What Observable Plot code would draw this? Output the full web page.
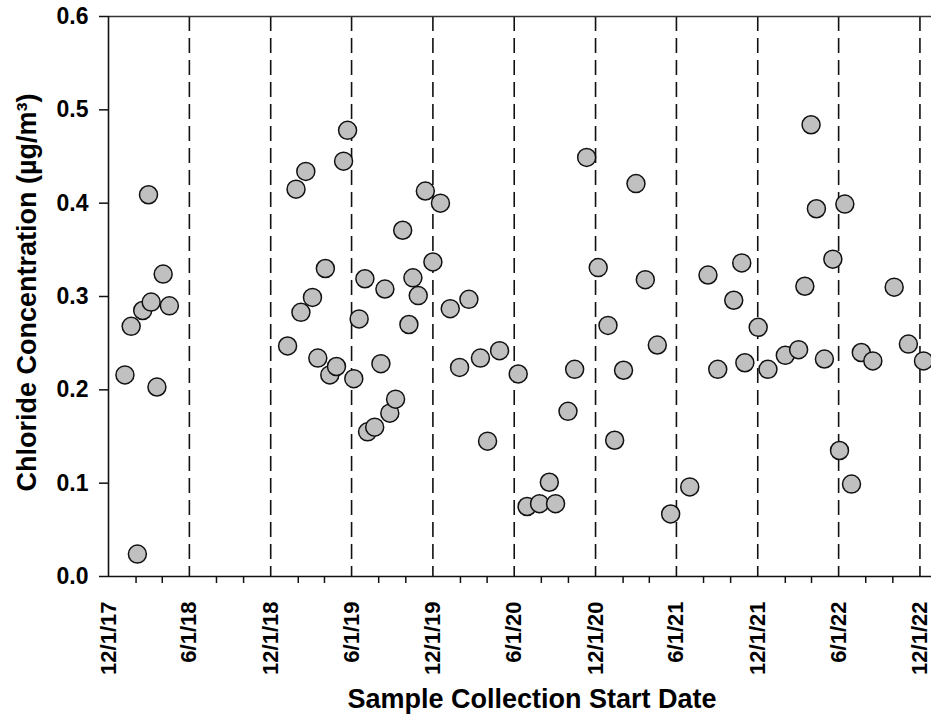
<!DOCTYPE html>
<html>
<head>
<meta charset="utf-8">
<script src="https://cdn.jsdelivr.net/npm/d3@7"></script>
<script src="https://cdn.jsdelivr.net/npm/@observablehq/plot@0.6"></script>
<style>
  html, body { margin: 0; padding: 0; background: #fff; }
  #chart svg { display: block; }
</style>
</head>
<body>
<div id="chart"></div>
<script>
// Sample collection start dates
const dates = [
  "2018-01-07","2018-01-21","2018-02-04","2018-02-16","2018-03-01","2018-03-07","2018-03-20","2018-04-03","2018-04-17",
  "2019-01-08","2019-01-27","2019-02-07","2019-02-18","2019-03-05","2019-03-17","2019-04-03","2019-04-13","2019-04-28",
  "2019-05-14","2019-05-23","2019-06-06","2019-06-18","2019-07-01","2019-07-07","2019-07-23","2019-08-06","2019-08-15",
  "2019-08-26","2019-09-08","2019-09-24","2019-10-08","2019-10-17","2019-10-29","2019-11-14","2019-12-01","2019-12-18",
  "2020-01-09","2020-01-30","2020-02-20","2020-03-17","2020-04-02","2020-04-29","2020-06-10","2020-06-30","2020-07-28",
  "2020-08-19","2020-09-02","2020-09-30","2020-10-15","2020-11-11","2020-12-07","2020-12-29","2021-01-13","2021-02-02",
  "2021-03-02","2021-03-23","2021-04-19","2021-05-19","2021-07-01","2021-08-11","2021-09-02","2021-10-08","2021-10-26",
  "2021-11-02","2021-12-02","2021-12-24","2022-02-01","2022-03-03","2022-03-17","2022-03-31","2022-04-12","2022-04-30",
  "2022-05-19","2022-06-03","2022-06-15","2022-06-30","2022-07-22","2022-08-17","2022-10-04","2022-11-05","2022-12-09"
];
// Chloride concentration (µg/m³)
const chloride = [
  0.216,0.268,0.024,0.285,0.409,0.294,0.203,0.324,0.290,
  0.247,0.415,0.283,0.434,0.299,0.234,0.330,0.216,0.225,
  0.445,0.478,0.212,0.276,0.319,0.155,0.160,0.228,0.308,
  0.175,0.190,0.371,0.270,0.320,0.301,0.413,0.337,0.400,
  0.287,0.224,0.297,0.234,0.145,0.242,0.217,0.075,0.078,
  0.101,0.078,0.177,0.222,0.449,0.331,0.269,0.146,0.221,
  0.421,0.318,0.248,0.067,0.096,0.323,0.222,0.296,0.336,
  0.229,0.267,0.222,0.237,0.243,0.311,0.484,0.394,0.233,
  0.340,0.135,0.399,0.099,0.240,0.231,0.310,0.249,0.231
];
// Major tick dates and labels
const majorTicks = ["2017-12-01","2018-06-01","2018-12-01","2019-06-01","2019-12-01","2020-06-01",
  "2020-12-01","2021-06-01","2021-12-01","2022-06-01","2022-12-01"];
const majorLabels = ["12/1/17","6/1/18","12/1/18","6/1/19","12/1/19","6/1/20",
  "12/1/20","6/1/21","12/1/21","6/1/22","12/1/22"];
// Minor tick dates
const minorTicks = ["2018-02-01","2018-04-01","2018-08-01","2018-10-01","2019-02-01","2019-04-01",
  "2019-08-01","2019-10-01","2020-02-01","2020-04-01","2020-08-01","2020-10-01","2021-02-01",
  "2021-04-01","2021-08-01","2021-10-01","2022-02-01","2022-04-01","2022-08-01","2022-10-01"];
const yTicks = [0, 0.1, 0.2, 0.3, 0.4, 0.5, 0.6];
const xDomain = ["2017-12-01", "2022-12-27"];
const yDomain = [0, 0.6];
const xTitle = "Sample Collection Start Date";
const yTitle = "Chloride Concentration (µg/m³)";

const parse = s => new Date(s + "T00:00:00Z");
const data = dates.map((d, i) => ({date: parse(d), value: chloride[i]}));
const majors = majorTicks.map((d, i) => ({date: parse(d), label: majorLabels[i]}));
const minors = minorTicks.map(parse);

const font = "'Liberation Sans', Arial, Helvetica, sans-serif";

const chart = Plot.plot({
  width: 931,
  height: 727,
  marginLeft: 108,
  marginRight: 0,
  marginTop: 16,
  marginBottom: 151,
  style: {fontFamily: font, fontWeight: "bold", background: "#fff", color: "#000", overflow: "visible"},
  x: {type: "utc", domain: xDomain.map(parse)},
  y: {domain: yDomain},
  marks: [
    // dashed vertical lines at each major date
    Plot.ruleX(majors.slice(1), {x: "date", stroke: "#111", strokeWidth: 1.6, strokeDasharray: "15,7"}),
    // frame lines
    Plot.ruleY([yDomain[1]], {stroke: "#333", strokeWidth: 1.6}),
    Plot.ruleY([yDomain[0]], {stroke: "#111", strokeWidth: 1.6}),
    Plot.ruleX([parse(xDomain[0])], {stroke: "#111", strokeWidth: 1.6}),
    // minor x ticks
    Plot.axisX(minors, {tickSize: 7, strokeWidth: 1.5, stroke: "#111", tickFormat: () => "", label: null}),
    // x tick labels (rotated)
    Plot.text(majors, {x: "date", text: "label", frameAnchor: "bottom", dy: 25, rotate: -90,
      textAnchor: "end", lineAnchor: "middle", fontSize: 22, fontWeight: "bold", fill: "#000"}),
    // y axis
    Plot.axisY(yTicks, {tickSize: 9, tickPadding: 11, strokeWidth: 1.5, stroke: "#111",
      tickFormat: d3.format(".1f"), fontSize: 23, fontWeight: "bold", label: null, fill: "#000"}),
    // titles
    Plot.text([xTitle], {frameAnchor: "bottom", dx: 12, dy: 131, fontSize: 27, fontWeight: "bold", fill: "#000"}),
    Plot.text([yTitle], {frameAnchor: "left", dx: -81, dy: -4, rotate: -90, textAnchor: "middle",
      fontSize: 27, fontWeight: "bold", fill: "#000"}),
    // points
    Plot.dot(data, {x: "date", y: "value", r: 9, fill: "#c0c0c0", stroke: "#111", strokeWidth: 1.5})
  ]
});
document.getElementById("chart").appendChild(chart);
</script>
</body>
</html>
